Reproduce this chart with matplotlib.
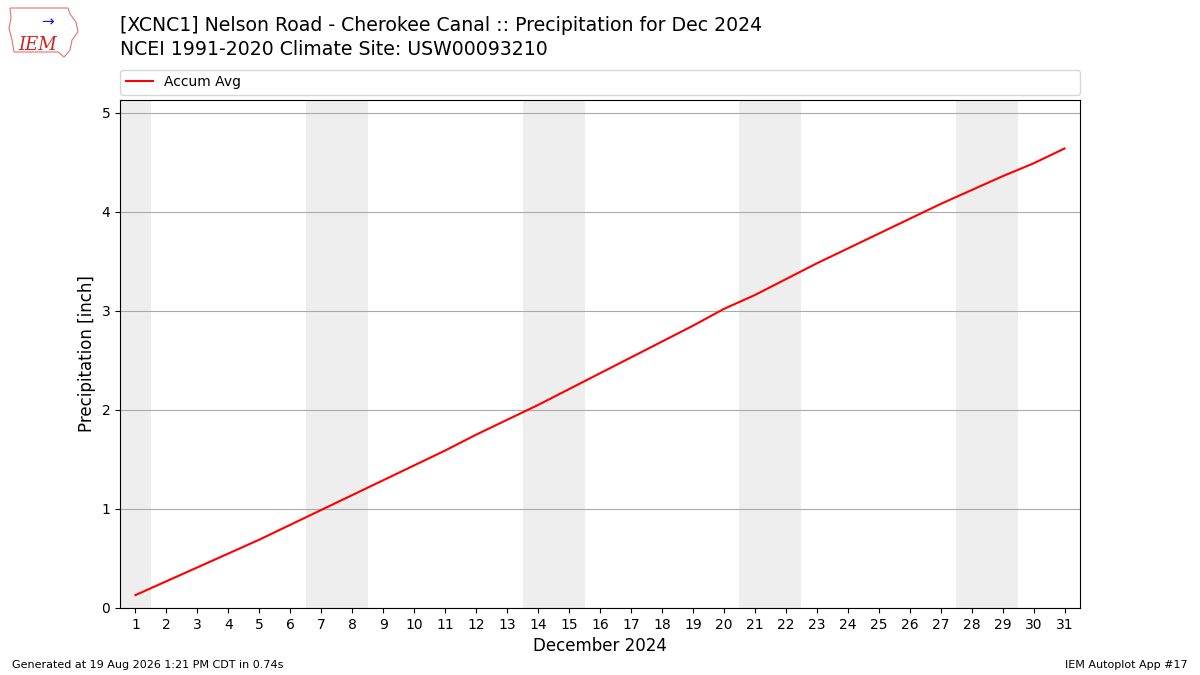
import numpy as np
import matplotlib
matplotlib.use("Agg")
import matplotlib.pyplot as plt
from matplotlib.patches import Polygon

# accumulated average precipitation (inch) for each day of Dec
days = list(range(1, 32))
accum_avg = [0.13, 0.27, 0.41, 0.55, 0.69, 0.84, 0.99, 1.14, 1.29, 1.44,
             1.59, 1.75, 1.90, 2.05, 2.21, 2.37, 2.53, 2.69, 2.85, 3.02,
             3.16, 3.32, 3.48, 3.63, 3.78, 3.93, 4.08, 4.22, 4.36, 4.49, 4.64]
# weekend days (Dec 1 2024 is a Sunday)
weekends = [[1], [7, 8], [14, 15], [21, 22], [28, 29]]

fig = plt.figure(figsize=(12, 6.75), dpi=100)
ax = fig.add_axes([0.1, 0.0993, 0.8, 0.7526])

for wk in weekends:
    ax.axvspan(wk[0] - 0.5, wk[-1] + 0.5, color="#eeeeee", zorder=0, lw=0)

ax.plot(days, accum_avg, color="red", lw=1.5, label="Accum Avg", zorder=3)

ax.set_xlim(0.5, 31.5)
ax.set_ylim(0, 5.13)
ax.set_xticks(days)
ax.set_yticks([0, 1, 2, 3, 4, 5])
ax.grid(axis="y", color="#aaaaaa", lw=0.8)
ax.set_axisbelow(True)
ax.tick_params(labelsize=10)
ax.set_xlabel("December 2024", fontsize=12)
ax.set_ylabel("Precipitation [inch]", fontsize=12)

ax.legend(loc="lower left", bbox_to_anchor=(0, 1.01, 1, 0.05), mode="expand",
          ncol=1, fontsize=10, borderaxespad=0, fancybox=True)

fig.text(0.1, 0.962, "[XCNC1] Nelson Road - Cherokee Canal :: Precipitation for Dec 2024",
         fontsize=13.6, va="center", ha="left")
fig.text(0.1, 0.927, "NCEI 1991-2020 Climate Site: USW00093210",
         fontsize=13.6, va="center", ha="left")

# logo stand-in: rough state outline + IEM
outline = [(10, 8), (68, 8), (70, 14), (76, 22), (78, 32), (72, 40), (70, 50),
           (64, 57), (58, 52), (14, 52), (12, 40), (9, 28), (11, 18)]
outline = [(x / 1200, 1 - y / 675) for x, y in outline]
fig.patches.append(Polygon(outline, closed=True, fill=False, ec="#e87070",
                           lw=0.8, transform=fig.transFigure))
fig.text(0.031, 0.934, "IEM", fontsize=13, color="#d42020", style="italic",
         family="DejaVu Serif", ha="center", va="center")
fig.text(0.04, 0.967, "\u2192", fontsize=11, color="#1a1acc", ha="center", va="center")

fig.text(0.01, 0.01, "Generated at 19 Aug 2026 1:21 PM CDT in 0.74s", fontsize=8)
fig.text(0.99, 0.01, "IEM Autoplot App #17", fontsize=8, ha="right")

fig.savefig("out.png", dpi=100)
